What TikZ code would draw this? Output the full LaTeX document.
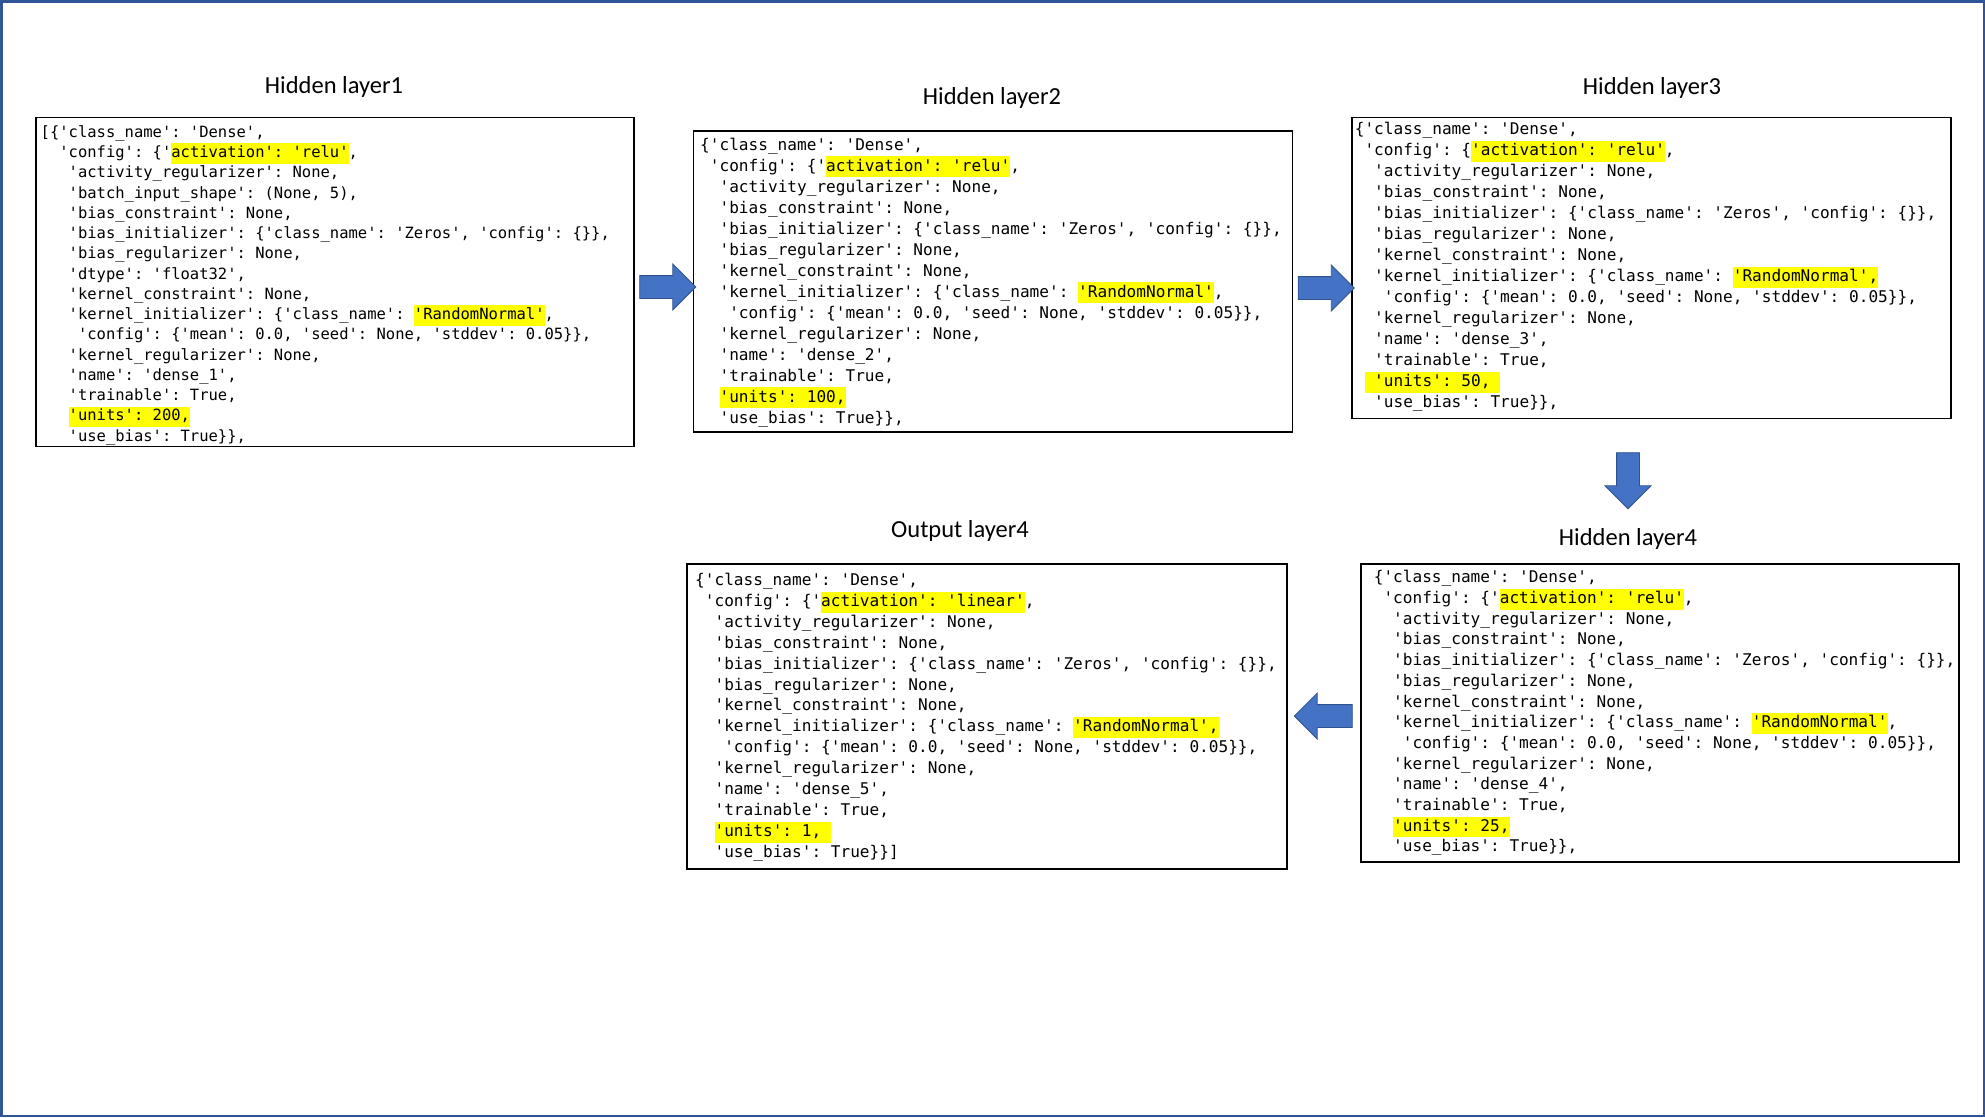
\documentclass[tikz,border=0pt]{standalone}
\usepackage{fontspec}
\setmainfont{Carlito}
\setmonofont{DejaVu Sans Mono}
\usetikzlibrary{shapes.arrows,positioning}
\definecolor{hlyellow}{HTML}{FFFF00}
\definecolor{arrowblue}{HTML}{4472C4}
\definecolor{arrowedge}{HTML}{2F528F}
\definecolor{framecol}{HTML}{2F5597}
% yellow marker behind a piece of code
\newcommand{\hl}[1]{{\setlength{\fboxsep}{0pt}\colorbox{hlyellow}{\strut #1}}}
\begin{document}
\begin{tikzpicture}[x=1pt,y=-1pt,
	box/.style 2 args={
		draw=black, line width=1.6pt, anchor=north west, inner sep=0pt,
		minimum width=#1, minimum height=#2
	},
	code/.style 2 args={
		anchor=north west, inner sep=0pt, align=left,
		font=\ttfamily\fontsize{#1}{#2}\selectfont
	},
	title/.style={inner sep=0pt, font=\fontsize{24.5}{29}\selectfont},
	blockarrow/.style={
		single arrow, draw=arrowedge, line width=0.8pt, fill=arrowblue,
		inner xsep=0pt, inner ysep=11pt, minimum height=56pt, minimum width=45pt,
		single arrow head extend=11.5pt, single arrow head indent=0pt
	}]
	\useasboundingbox (0,0) rectangle (1985,1117);
	% Outer frame
	\draw[framecol, line width=2.5pt] (1.25,1.25) rectangle (1983.75,1115.75);
	
	% Hidden layer 1
	\node[title] (t1) at (334,86.5) {Hidden layer1};
	\node[box={598pt}{329pt}] (box1) at (35.4,116.5) {};
	\node[code={15.5}{20.25}] (c1) at (40.5,123) {\strut[\{'class\_name': 'Dense',\\
		~~'config': \{'\hl{activation': 'relu'},\\
		~~~'activity\_regularizer': None,\\
		~~~'batch\_input\_shape': (None, 5),\\
		~~~'bias\_constraint': None,\\
		~~~'bias\_initializer': \{'class\_name': 'Zeros', 'config': \{\}\},\\
		~~~'bias\_regularizer': None,\\
		~~~'dtype': 'float32',\\
		~~~'kernel\_constraint': None,\\
		~~~'kernel\_initializer': \{'class\_name': \hl{'RandomNormal'},\\
		~~~~'config': \{'mean': 0.0, 'seed': None, 'stddev': 0.05\}\},\\
		~~~'kernel\_regularizer': None,\\
		~~~'name': 'dense\_1',\\
		~~~'trainable': True,\\
		~~~\hl{'units': 200,}\\
		~~~'use\_bias': True\}\},};
	
	% Hidden layer 2
	\node[title] (t2) at (992,97.5) {Hidden layer2};
	\node[box={599pt}{301pt}] (box2) at (692.5,130.4) {};
	\node[code={16.1}{21}] (c2) at (700,135.1) {\strut\{'class\_name': 'Dense',\\
		~'config': \{'\hl{activation': 'relu'},\\
		~~'activity\_regularizer': None,\\
		~~'bias\_constraint': None,\\
		~~'bias\_initializer': \{'class\_name': 'Zeros', 'config': \{\}\},\\
		~~'bias\_regularizer': None,\\
		~~'kernel\_constraint': None,\\
		~~'kernel\_initializer': \{'class\_name': \hl{'RandomNormal'},\\
		~~~'config': \{'mean': 0.0, 'seed': None, 'stddev': 0.05\}\},\\
		~~'kernel\_regularizer': None,\\
		~~'name': 'dense\_2',\\
		~~'trainable': True,\\
		~~\hl{'units': 100,}\\
		~~'use\_bias': True\}\},};
	
	% Hidden layer 3
	\node[title] (t3) at (1652,87.5) {Hidden layer3};
	\node[box={599pt}{301pt}] (box3) at (1351,116.5) {};
	\node[code={16.1}{21}] (c3) at (1354.6,120) {\strut\{'class\_name': 'Dense',\\
		~'config': \{\hl{'activation': 'relu'},\\
		~~'activity\_regularizer': None,\\
		~~'bias\_constraint': None,\\
		~~'bias\_initializer': \{'class\_name': 'Zeros', 'config': \{\}\},\\
		~~'bias\_regularizer': None,\\
		~~'kernel\_constraint': None,\\
		~~'kernel\_initializer': \{'class\_name': \hl{'RandomNormal',}\\
		~~~'config': \{'mean': 0.0, 'seed': None, 'stddev': 0.05\}\},\\
		~~'kernel\_regularizer': None,\\
		~~'name': 'dense\_3',\\
		~~'trainable': True,\\
		~\hl{~'units': 50,~}\\
		~~'use\_bias': True\}\},};
	
	% Hidden layer 4
	\node[title] (t4) at (1628,538.5) {Hidden layer4};
	\node[box={598pt}{298pt}] (box4) at (1360,563) {};
	\node[code={16.1}{20.7}] (c4) at (1373.6,568.1) {\strut\{'class\_name': 'Dense',\\
		~'config': \{'\hl{activation': 'relu'},\\
		~~'activity\_regularizer': None,\\
		~~'bias\_constraint': None,\\
		~~'bias\_initializer': \{'class\_name': 'Zeros', 'config': \{\}\},\\
		~~'bias\_regularizer': None,\\
		~~'kernel\_constraint': None,\\
		~~'kernel\_initializer': \{'class\_name': \hl{'RandomNormal'},\\
		~~~'config': \{'mean': 0.0, 'seed': None, 'stddev': 0.05\}\},\\
		~~'kernel\_regularizer': None,\\
		~~'name': 'dense\_4',\\
		~~'trainable': True,\\
		~~\hl{'units': 25,}\\
		~~'use\_bias': True\}\},};
	
	% Output layer
	\node[title] (t5) at (960,530.5) {Output layer4};
	\node[box={600pt}{305pt}] (box5) at (686,563) {};
	\node[code={16.1}{20.9}] (c5) at (695,570.7) {\strut\{'class\_name': 'Dense',\\
		~'config': \{'\hl{activation': 'linear'},\\
		~~'activity\_regularizer': None,\\
		~~'bias\_constraint': None,\\
		~~'bias\_initializer': \{'class\_name': 'Zeros', 'config': \{\}\},\\
		~~'bias\_regularizer': None,\\
		~~'kernel\_constraint': None,\\
		~~'kernel\_initializer': \{'class\_name': \hl{'RandomNormal',}\\
		~~~'config': \{'mean': 0.0, 'seed': None, 'stddev': 0.05\}\},\\
		~~'kernel\_regularizer': None,\\
		~~'name': 'dense\_5',\\
		~~'trainable': True,\\
		~~\hl{'units': 1,~}\\
		~~'use\_bias': True\}\}]};
	
	% Block arrows between the layers
	\node[blockarrow] (a12) at (662,287) {};
	\node[blockarrow] (a23) at (1320.5,288) {};
	\node[blockarrow, rotate=-90] (a34) at (1628,475) {};
	\node[blockarrow, rotate=180, minimum height=58pt] (a45) at (1329,716) {};
\end{tikzpicture}
\end{document}
